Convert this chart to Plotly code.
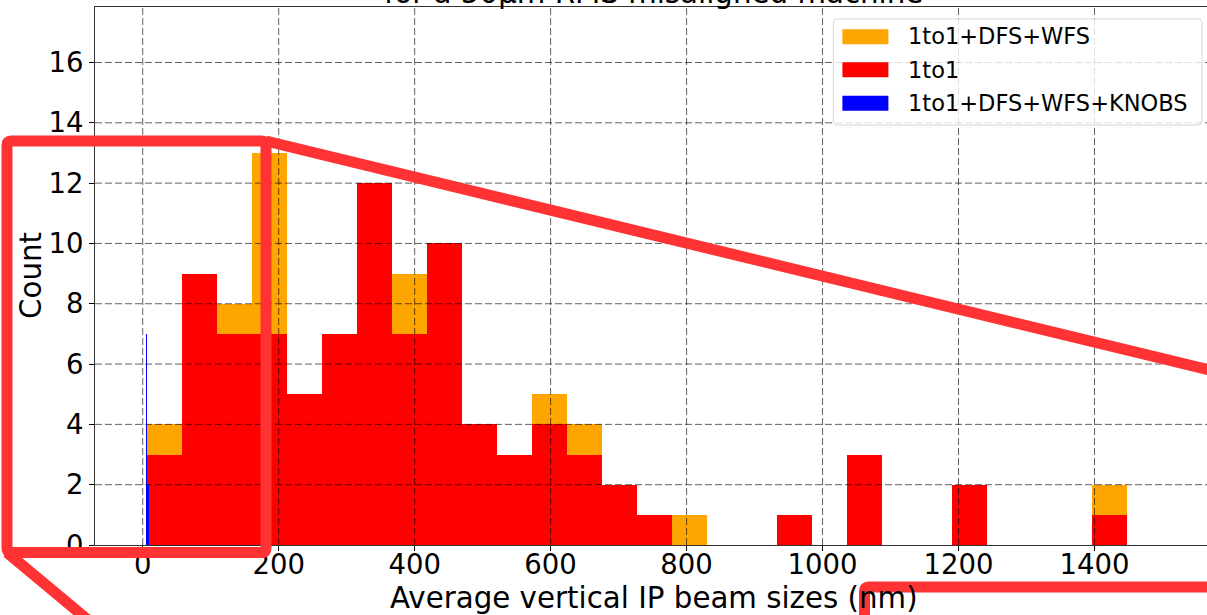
import plotly.graph_objects as go

# ---------------- data ----------------
BIN_START = 6.5
BIN_WIDTH = 51.5
COUNTS_DFS_WFS = [4, 8, 8, 13, 5, 6, 10, 9, 8, 4, 3, 5, 4, 2, 1, 1, 0, 0, 1, 0, 2, 0, 0, 1, 0, 0, 0, 2]
COUNTS_1TO1 = [3, 9, 7, 7, 5, 7, 12, 7, 10, 4, 3, 4, 3, 2, 1, 0, 0, 0, 1, 0, 3, 0, 0, 2, 0, 0, 0, 1]
KNOBS_BIN_START = 5.0
KNOBS_BIN_WIDTH = 0.45
COUNTS_KNOBS = [7, 2, 2, 2, 2, 2, 2, 2]
SERIES_NAMES = ["1to1+DFS+WFS", "1to1", "1to1+DFS+WFS+KNOBS"]
SERIES_COLORS = ["#FFA500", "#FF0000", "#0000FF"]
X_TICKS = [0, 200, 400, 600, 800, 1000, 1200, 1400]
Y_TICKS = [0, 2, 4, 6, 8, 10, 12, 14, 16]
X_RANGE = [-70.2, 1565.5]
Y_RANGE = [0, 17.84]
TITLE_TEXT = "for a 50μm RMS misaligned machine"
X_LABEL = "Average vertical IP beam sizes (nm)"
Y_LABEL = "Count"

FONT = "DejaVu Sans"
W, H = 1207, 615
ML, MR, MT, MB = 95, 0, 7, 70
PW, PH = W - ML - MR, H - MT - MB
LABEL_SIZE = 29.3
TICK_SIZE = 27.5
LEGEND_SIZE = 22.5


def px(x):
    return (x - ML) / PW


def py(y):
    return (MT + PH - y) / PH


def centers(start, width, n):
    return [start + width * (i + 0.5) for i in range(n)]


fig = go.Figure()
hist_sets = [
    (COUNTS_DFS_WFS, BIN_START, BIN_WIDTH),
    (COUNTS_1TO1, BIN_START, BIN_WIDTH),
    (COUNTS_KNOBS, KNOBS_BIN_START, KNOBS_BIN_WIDTH),
]
for (counts, start, width), name, color in zip(hist_sets, SERIES_NAMES, SERIES_COLORS):
    fig.add_trace(go.Bar(
        x=centers(start, width, len(counts)), y=counts, width=width,
        name=name, marker=dict(color=color, line=dict(width=0)),
        showlegend=False,
    ))

shapes = []
# grid (drawn above the bars, as in the reference)
grid_line = dict(color="rgba(0,0,0,0.62)", width=1, dash="7px,3px")
for xv in X_TICKS:
    shapes.append(dict(type="line", xref="x", yref="paper", x0=xv, x1=xv, y0=0, y1=1,
                       line=grid_line, layer="above"))
for yv in Y_TICKS[1:]:
    shapes.append(dict(type="line", xref="paper", yref="y", x0=0, x1=1, y0=yv, y1=yv,
                       line=grid_line, layer="above"))


def path(cmds):
    out = []
    for c in cmds:
        if isinstance(c, str):
            out.append(c)
        else:
            out.append(f"{px(c[0]):.5f},{py(c[1]):.5f}")
    return " ".join(out)


# legend box
lx0, lx1, ly0, ly1, r = 833.4, 1202, 19, 125, 4
shapes.append(dict(type="path", xref="paper", yref="paper", layer="above",
                   path=path(["M", (lx0 + r, ly0), "L", (lx1 - r, ly0), "Q", (lx1, ly0), (lx1, ly0 + r),
                              "L", (lx1, ly1 - r), "Q", (lx1, ly1), (lx1 - r, ly1),
                              "L", (lx0 + r, ly1), "Q", (lx0, ly1), (lx0, ly1 - r),
                              "L", (lx0, ly0 + r), "Q", (lx0, ly0), (lx0 + r, ly0), "Z"]),
                   fillcolor="rgba(255,255,255,0.8)", line=dict(color="#d6d6d6", width=1)))
annotations = []
row_base = [44.3, 77.3, 110.7]
for name, color, yb in zip(SERIES_NAMES, SERIES_COLORS, row_base):
    shapes.append(dict(type="rect", xref="paper", yref="paper", layer="above",
                       x0=px(842.4), x1=px(888.4), y0=py(yb - 15), y1=py(yb),
                       fillcolor=color, line=dict(width=0)))
    annotations.append(dict(text=name, xref="paper", yref="paper", x=px(905.5), y=py(yb - 7.8),
                            xanchor="left", yanchor="middle", showarrow=False,
                            font=dict(family=FONT, size=LEGEND_SIZE, color="black")))

# red zoom-callout overlay
oc = dict(color="rgb(255,51,51)", width=11)
ax0, ay0, ax1, ay1, rr = 7, 141, 266, 552.5, 4
shapes.append(dict(type="path", xref="paper", yref="paper", layer="above", line=oc,
                   path=path(["M", (ax0, ay0 + rr), "Q", (ax0, ay0), (ax0 + rr, ay0),
                              "L", (ax1 - rr, ay0), "Q", (ax1, ay0), (ax1, ay0 + rr),
                              "L", (ax1, ay1 - rr), "Q", (ax1, ay1), (ax1 - rr, ay1),
                              "L", (ax0 + rr, ay1), "Q", (ax0, ay1), (ax0, ay1 - rr), "Z"])))
shapes.append(dict(type="path", xref="paper", yref="paper", layer="above", line=oc,
                   path=path(["M", (ax1, ay0), "L", (1230, 375)])))
shapes.append(dict(type="path", xref="paper", yref="paper", layer="above", line=oc,
                   path=path(["M", (ax0, ay1), "L", (100, 630)])))
shapes.append(dict(type="path", xref="paper", yref="paper", layer="above", line=oc,
                   path=path(["M", (864.5, 640), "L", (864.5, 591), "Q", (864.5, 587), (868.5, 587),
                              "L", (1230, 587)])))

# titles
annotations.append(dict(text=TITLE_TEXT, xref="paper", yref="paper", x=0.5, xshift=2.5, y=1,
                        yanchor="bottom", yshift=-5.5, showarrow=False,
                        font=dict(family=FONT, size=LABEL_SIZE, color="black")))
annotations.append(dict(text=X_LABEL, xref="paper", yref="paper", x=0.5, xshift=2.5, y=py(598.2),
                        yanchor="middle", showarrow=False,
                        font=dict(family=FONT, size=LABEL_SIZE, color="black")))
annotations.append(dict(text=Y_LABEL, xref="paper", yref="paper", x=px(31), y=0.5,
                        xanchor="center", yanchor="middle", textangle=-90, showarrow=False,
                        font=dict(family=FONT, size=LABEL_SIZE, color="black")))

axis_common = dict(showgrid=False, zeroline=False, ticks="outside", ticklen=5, tickwidth=1,
                   tickcolor="black", showline=True, linecolor="#333", linewidth=1,
                   tickfont=dict(family=FONT, size=TICK_SIZE, color="black"))
fig.update_layout(
    width=W, height=H, margin=dict(l=ML, r=MR, t=MT, b=MB, autoexpand=False),
    paper_bgcolor="white", plot_bgcolor="white",
    barmode="overlay", bargap=0, showlegend=False,
    xaxis=dict(range=X_RANGE, tickvals=X_TICKS, mirror=True, ticklabelstandoff=-10, **axis_common),
    yaxis=dict(range=Y_RANGE, tickvals=Y_TICKS, mirror=False, **axis_common),
    shapes=shapes, annotations=annotations,
    font=dict(family=FONT),
)
fig.write_html(
    "out.html",
    config={"displayModeBar": False},
    post_script="document.body.style.margin='0';document.body.style.overflow='hidden';",
)
